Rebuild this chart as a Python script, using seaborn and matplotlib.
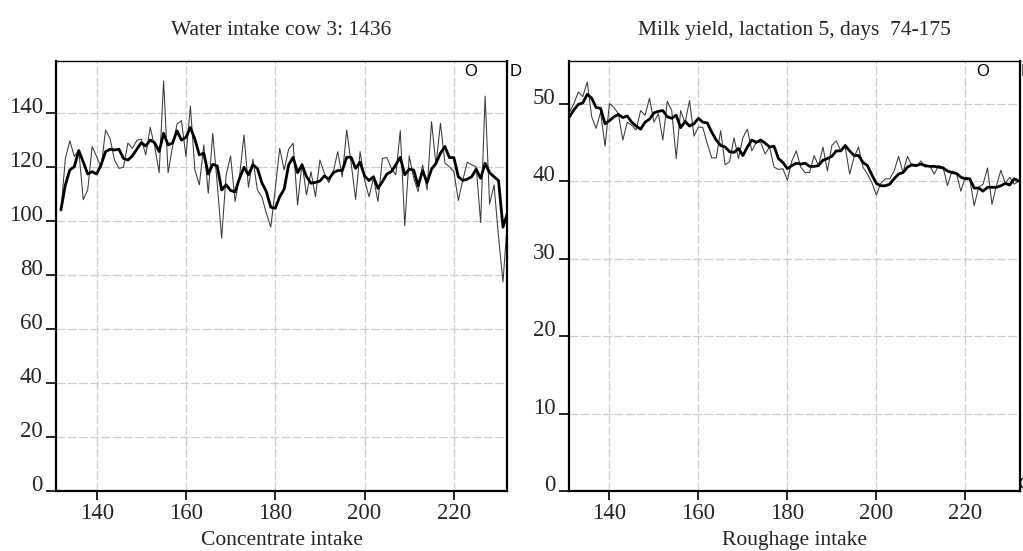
import numpy as np
import pandas as pd
import matplotlib
matplotlib.use("Agg")
import matplotlib.pyplot as plt
import seaborn as sns

# ---------------- data ----------------
water_days = list(range(132, 233))
water_raw = [104, 123.3, 129.8, 124, 126.4, 108, 111.6, 127.7, 124, 120,
             133.8, 130.7, 122.7, 119.6, 120, 129, 127, 130, 130.4, 124.6,
             134.8, 127.7, 118, 152, 118, 127.7, 136, 137.3, 124, 142.7,
             119, 113.5, 128.3, 110.4, 132.6, 114, 93.7, 117.2, 124.2, 107.3,
             116.5, 132, 112.6, 123, 111.6, 109, 103, 97.8, 112, 127,
             119, 126.7,
             128.9, 106, 121.5, 109.8, 118.4, 109.1, 122.7, 117.8, 114.3, 118.4,
             125.8, 116.5, 133.8, 121.5, 108.1, 125.8, 115.3, 109.1, 116, 107.3,
             123.3, 123.6, 119.6, 117.2, 133.6, 98.3, 124.2, 116, 111, 120.9,
             111.6, 136.9, 120.9, 136.3, 121.5, 120.2, 118.4, 107.7, 115.3, 121.9,
             120.9, 120.2, 99.5, 146.4, 106.4, 113.5, 94.3, 77.5, 100.5]
water_smooth = [104.2, 113.5, 119, 120.2, 126.2, 122, 117.5, 118.4, 117.5, 120.9,
                125.8, 126.7, 126.4, 126.7, 123.3, 122.7, 124.2, 126.7, 129.1, 127.9,
                130.1, 129.1, 125.8, 132.6, 128.3, 129, 133.5, 130.1, 131.1, 134.8,
                130.4, 124.6, 125.2, 117.5, 121.1, 120.5, 111.6, 113.5, 111.4, 110.9,
                115.9, 120, 117.2, 120.9, 119.6, 114.3, 111, 105.2, 104.8, 109.1,
                111.9, 120.9,
                123.7, 118.0, 120.9, 116.5, 114.1, 114.4, 114.9, 116.8, 115.6, 118.0,
                118.8, 118.8, 123.7, 123.7, 119.6, 121.9, 116.8, 115.1, 116.5, 112.2,
                114.7, 117.5, 118.4, 120.9, 123.7, 117.2, 119.3, 119.0, 113.1, 118.8,
                114.3, 119.3, 121.5, 125.2, 127.7, 123.6, 123.6, 116.5, 115.1, 115.6,
                116.5, 119.3, 115.9, 121.5, 118.0, 116.5, 115.1, 97.8, 103.0]

milk_days = list(range(131, 233))
milk_raw = [48.9, 50, 51.5, 50.9, 52.8, 48.3, 46.8, 48.9, 44.5, 50,
            49.5, 48.7, 45.3, 47.6, 47.2, 46.6, 49.1, 48.5, 50.7, 47.6,
            48.7, 45.3, 50.3, 49.1, 42.9, 49.1, 47.5, 50.4, 45.8, 47,
            46.9, 44.8, 43, 43, 46.5, 42.1, 42.5, 45.6, 42.9, 45.6,
            46.7, 43.9, 45, 45, 43.5, 44.4, 41.8, 41.5,
            41.6, 40.1, 42.6, 43.9, 41.8, 41.1, 41.1, 43.3, 42, 44.4,
            41.3, 44.6, 45.2, 43.9, 44.4,
            40.9, 43.1, 44.4, 41.8, 40.9, 39.8, 38.2, 39.7, 40.3, 40.3,
            41.3, 43.2, 41.1, 43.2, 42, 41.9, 42.6, 41.8, 42, 40.9,
            42, 41.8, 39.4, 41.3, 41, 38.7, 40.5, 40.3, 36.8, 39.2,
            39.6, 41.7, 37, 39.4, 41.4, 39.7, 40.5, 39.6, 40]
milk_smooth = [48.3, 49.2, 49.9, 50.1, 51.2, 50.7, 49.5, 49.4, 47.4, 47.8,
               48.3, 48.6, 48.2, 48.4, 47.6, 47.1, 46.7, 47.6, 48, 48.8,
               49, 49.1, 48.3, 48.1, 48.5, 46.9, 47.7, 47.1, 47.4, 48.1,
               47.6, 47.5, 46.3, 45.3, 44.6, 44.4, 43.8, 43.7, 44.2, 43.3,
               44.4, 45.3, 45, 45.3, 44.9, 44.4, 44.5, 42.9,
               42.4, 41.6, 42, 42.3, 42.2, 42.3, 41.9, 41.9, 42, 42.7,
               42.9, 43.2, 43.9, 43.9, 44.6, 43.9, 43.3, 43.3, 42.4, 42,
               40.8, 39.7, 39.4, 39.4, 39.6, 40.3, 40.9, 41.1, 41.8, 42.1,
               42, 42.2, 42, 41.9, 41.9, 41.8, 41.7, 41.3, 41.1, 41,
               40.5, 40.3, 40.3, 39.1, 39.1, 38.7, 39.2, 39.2, 39.2, 39.4,
               39.7, 39.5, 40.3, 40]

x_ticks = [140, 160, 180, 200, 220]
water_yticks = [0, 20, 40, 60, 80, 100, 120, 140]
milk_yticks = [0, 10, 20, 30, 40, 50]

titles = ["Water intake cow 3: 1436", "Milk yield, lactation 5, days  74-175"]
xlabels = ["Concentrate intake", "Roughage intake"]

# ---------------- style ----------------
sns.set_theme(style="white")
plt.rcParams["font.family"] = ["Liberation Serif", "DejaVu Serif"]

fig = plt.figure(figsize=(10.23, 5.51), dpi=100)
axL = fig.add_axes([56/1023, 1 - 491/551, (507-56)/1023, (491-61)/551])
axR = fig.add_axes([569/1023, 1 - 491/551, (1020-569)/1023, (491-61)/551])

panels = [
    (axL, water_days, water_raw, water_smooth, water_yticks, (130.9, 231.9), (0, 159.4)),
    (axR, milk_days, milk_raw, milk_smooth, milk_yticks, (130.9, 232.3), (0, 55.5)),
]

for i, (ax, xs, raw, sm, yt, xl, yl) in enumerate(panels):
    df = pd.DataFrame({"x": xs, "raw": raw, "smooth": sm})
    sns.lineplot(data=df, x="x", y="raw", ax=ax, color="#3a3a3a", linewidth=0.75)
    sns.lineplot(data=df, x="x", y="smooth", ax=ax, color="black", linewidth=2.0)
    ax.set_xlim(*xl)
    ax.set_ylim(*yl)
    ax.set_xticks(x_ticks)
    ax.set_yticks(yt)
    ax.set_xticklabels([str(v) for v in x_ticks])
    ax.set_yticklabels([str(v) for v in yt])
    ax.set_axisbelow(True)
    ax.grid(True, color="#cfcfcf", linestyle=(0, (7, 2)), linewidth=0.9)
    ax.tick_params(axis="y", direction="out", length=7.5, width=1.2, color="black",
                   pad=2, labelsize=16.5, left=True)
    ax.tick_params(axis="x", direction="out", length=6.5, width=1.2, color="black",
                   pad=2, labelsize=16.5, bottom=True)
    for lab in ax.get_yticklabels():
        lab.set_verticalalignment("baseline")
    for side in ["left", "bottom", "right"]:
        ax.spines[side].set_linewidth(1.6)
        ax.spines[side].set_color("black")
    ax.spines["top"].set_linewidth(1.0)
    ax.spines["top"].set_color("black")
    ax.set_title(titles[i], fontsize=15.5, pad=19)
    ax.set_xlabel(xlabels[i], fontsize=15.5, labelpad=5)
    ax.set_ylabel("")
    # stray marker letters
    ax.text(223.8, yl[1] * 0.975, "O", family=["Liberation Sans"], fontsize=12,
            ha="center", va="center", color="black")
    ax.text(233.8, yl[1] * 0.975, "D", family=["Liberation Sans"], fontsize=12,
            ha="center", va="center", color="black", clip_on=False)

axR.text(233.4, 0.9, "O", family=["Liberation Sans"], fontsize=12,
         ha="center", va="center", color="black", clip_on=False)

fig.savefig("out.png", dpi=100)
